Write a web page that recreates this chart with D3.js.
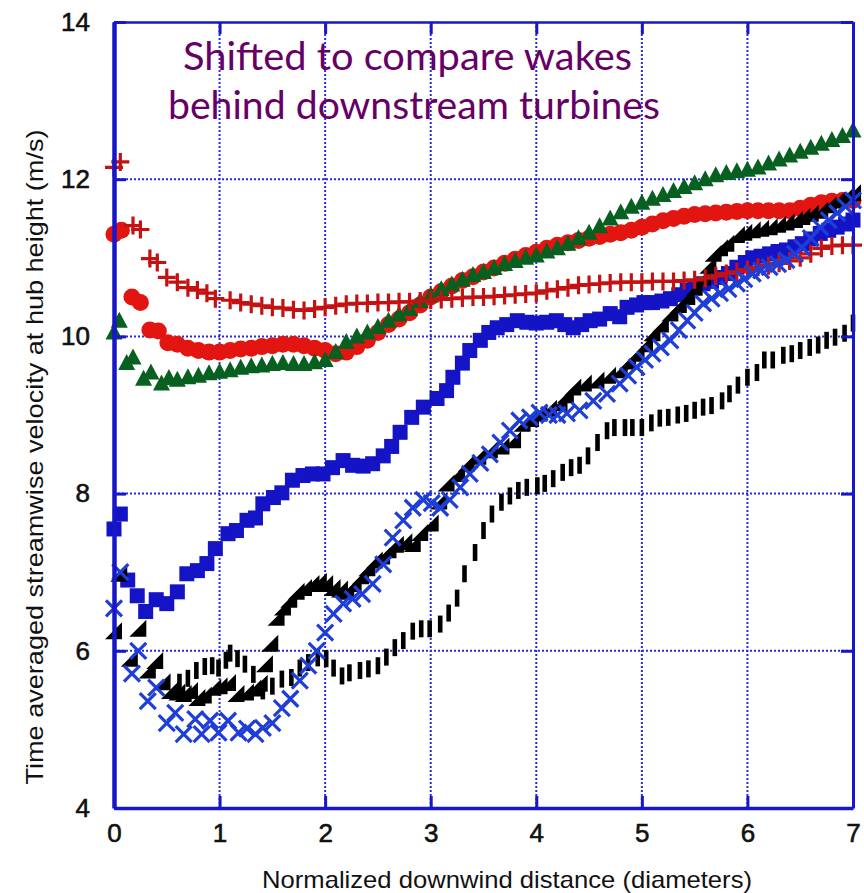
<!DOCTYPE html>
<html lang="en">
<head>
<meta charset="UTF-8">
<title>Time averaged streamwise velocity at hub height</title>
<script src="https://d3js.org/d3.v7.min.js"></script>
<style>
  body, html { margin: 0; padding: 0; background: #fff; }
  svg { display: block; }
  .tick text { font-family: "Liberation Sans", Arial, sans-serif; font-size: 26px; fill: #111; stroke: #111; stroke-width: 0.6px; }
</style>
</head>
<body>
<div id="chart"></div>
<script>
// x = normalized downwind distance (diameters), y = velocity (m/s)
const xTicks = [0, 1, 2, 3, 4, 5, 6, 7];
const yTicks = [4, 6, 8, 10, 12, 14];

const redPlus = [[0,12.15],[0.06,12.22],[0.18,11.41],[0.25,11.36],[0.34,10.99],[0.41,10.94],[0.5,10.75],[0.6,10.69],[0.7,10.62],[0.79,10.59],[0.88,10.55],[0.96,10.48],[1.1,10.46],[1.2,10.43],[1.3,10.41],[1.4,10.39],[1.5,10.37],[1.6,10.36],[1.7,10.34],[1.8,10.33],[1.9,10.35],[2.0,10.37],[2.1,10.39],[2.2,10.41],[2.3,10.42],[2.4,10.42],[2.5,10.43],[2.6,10.43],[2.7,10.44],[2.8,10.44],[2.9,10.45],[3.0,10.46],[3.1,10.47],[3.2,10.48],[3.3,10.49],[3.4,10.5],[3.5,10.5],[3.6,10.51],[3.7,10.52],[3.8,10.53],[3.9,10.54],[4.0,10.55],[4.1,10.58],[4.2,10.6],[4.3,10.62],[4.4,10.65],[4.5,10.66],[4.6,10.67],[4.7,10.68],[4.8,10.69],[4.9,10.69],[5.0,10.69],[5.1,10.7],[5.2,10.7],[5.3,10.7],[5.4,10.71],[5.5,10.72],[5.6,10.74],[5.7,10.77],[5.8,10.8],[5.9,10.82],[6.0,10.85],[6.1,10.88],[6.2,10.9],[6.3,10.93],[6.4,10.96],[6.5,11.0],[6.6,11.05],[6.7,11.12],[6.8,11.15],[6.9,11.16],[7.0,11.16]];

const redDots = [[0,11.3],[0.07,11.35],[0.17,10.5],[0.25,10.43],[0.34,10.08],[0.42,10.07],[0.51,9.92],[0.6,9.9],[0.7,9.85],[0.8,9.82],[0.9,9.8],[1.0,9.8],[1.1,9.82],[1.2,9.84],[1.3,9.85],[1.4,9.87],[1.5,9.88],[1.6,9.9],[1.7,9.9],[1.8,9.88],[1.9,9.85],[2.0,9.82],[2.1,9.78],[2.2,9.8],[2.3,9.87],[2.4,9.95],[2.5,10.05],[2.6,10.15],[2.7,10.22],[2.8,10.3],[2.9,10.4],[3.0,10.5],[3.1,10.57],[3.2,10.64],[3.3,10.71],[3.4,10.76],[3.5,10.82],[3.6,10.87],[3.7,10.93],[3.8,10.98],[3.9,11.03],[4.0,11.07],[4.1,11.12],[4.2,11.16],[4.3,11.19],[4.4,11.22],[4.5,11.25],[4.6,11.27],[4.7,11.3],[4.8,11.32],[4.9,11.35],[5.0,11.39],[5.1,11.43],[5.2,11.47],[5.3,11.5],[5.4,11.53],[5.5,11.55],[5.6,11.56],[5.7,11.57],[5.8,11.58],[5.9,11.59],[6.0,11.6],[6.1,11.6],[6.2,11.6],[6.3,11.6],[6.4,11.6],[6.5,11.63],[6.6,11.67],[6.7,11.7],[6.8,11.72],[6.9,11.73],[7.0,11.73]];

const greenTri = [[0,10.05],[0.05,10.2],[0.12,9.66],[0.18,9.73],[0.28,9.46],[0.35,9.54],[0.45,9.4],[0.52,9.47],[0.6,9.45],[0.7,9.48],[0.8,9.5],[0.9,9.53],[1.0,9.55],[1.1,9.57],[1.2,9.6],[1.3,9.62],[1.4,9.63],[1.5,9.65],[1.6,9.66],[1.7,9.65],[1.8,9.65],[1.9,9.67],[2.0,9.7],[2.1,9.8],[2.2,9.93],[2.3,10.0],[2.4,10.05],[2.5,10.12],[2.6,10.2],[2.7,10.28],[2.8,10.35],[2.9,10.45],[3.0,10.52],[3.1,10.6],[3.2,10.66],[3.3,10.72],[3.4,10.78],[3.5,10.82],[3.6,10.87],[3.7,10.92],[3.8,10.96],[3.9,11.0],[4.0,11.03],[4.1,11.08],[4.2,11.12],[4.3,11.18],[4.4,11.25],[4.5,11.32],[4.6,11.4],[4.7,11.5],[4.8,11.58],[4.9,11.65],[5.0,11.7],[5.1,11.75],[5.2,11.8],[5.3,11.85],[5.4,11.9],[5.5,11.95],[5.6,12.0],[5.7,12.05],[5.8,12.08],[5.9,12.1],[6.0,12.12],[6.1,12.15],[6.2,12.2],[6.3,12.25],[6.4,12.3],[6.5,12.35],[6.6,12.4],[6.7,12.45],[6.8,12.5],[6.9,12.55],[7.0,12.62]];

const blueSquares = [[0,7.55],[0.06,7.74],[0.13,6.9],[0.22,6.7],[0.3,6.5],[0.4,6.65],[0.5,6.6],[0.6,6.75],[0.69,6.98],[0.79,7.02],[0.88,7.11],[0.96,7.3],[1.08,7.49],[1.16,7.53],[1.26,7.66],[1.34,7.69],[1.41,7.87],[1.51,7.95],[1.59,8.01],[1.69,8.17],[1.79,8.23],[1.88,8.25],[1.98,8.25],[2.07,8.33],[2.17,8.42],[2.26,8.36],[2.36,8.35],[2.45,8.38],[2.55,8.48],[2.63,8.6],[2.71,8.78],[2.82,8.97],[2.93,9.1],[3.06,9.21],[3.15,9.31],[3.21,9.48],[3.3,9.66],[3.37,9.82],[3.47,9.95],[3.55,10.05],[3.63,10.11],[3.72,10.15],[3.82,10.2],[3.91,10.18],[4.0,10.17],[4.1,10.18],[4.19,10.2],[4.27,10.15],[4.35,10.11],[4.43,10.15],[4.51,10.2],[4.6,10.22],[4.7,10.29],[4.79,10.25],[4.86,10.37],[4.95,10.4],[5.02,10.43],[5.1,10.43],[5.19,10.45],[5.27,10.48],[5.35,10.53],[5.43,10.59],[5.5,10.63],[5.58,10.67],[5.66,10.7],[5.74,10.75],[5.82,10.8],[5.9,10.88],[5.98,10.94],[6.05,11.0],[6.13,11.02],[6.21,11.05],[6.29,11.08],[6.37,11.1],[6.45,11.14],[6.52,11.18],[6.6,11.24],[6.69,11.31],[6.77,11.35],[6.85,11.39],[6.93,11.43],[7.0,11.48]];

const blackTri = [[0,6.25],[0.05,6.98],[0.15,5.9],[0.23,6.28],[0.32,5.75],[0.39,5.87],[0.46,5.6],[0.53,5.49],[0.6,5.47],[0.66,5.45],[0.72,5.49],[0.79,5.4],[0.85,5.43],[0.94,5.53],[1.0,5.55],[1.08,5.59],[1.16,5.45],[1.25,5.47],[1.32,5.52],[1.38,5.58],[1.43,5.83],[1.48,6.09],[1.54,6.42],[1.6,6.55],[1.66,6.65],[1.73,6.75],[1.8,6.8],[1.87,6.85],[1.94,6.88],[2.0,6.85],[2.07,6.8],[2.14,6.78],[2.2,6.75],[2.27,6.85],[2.34,6.95],[2.4,7.05],[2.47,7.15],[2.54,7.2],[2.6,7.28],[2.67,7.35],[2.75,7.38],[2.83,7.36],[2.9,7.5],[3.0,7.62],[3.08,7.9],[3.15,8.13],[3.25,8.25],[3.34,8.38],[3.45,8.47],[3.56,8.55],[3.67,8.6],[3.78,8.68],[3.87,8.89],[3.95,8.95],[4.03,9.02],[4.12,9.08],[4.22,9.15],[4.28,9.25],[4.35,9.35],[4.45,9.4],[4.57,9.44],[4.68,9.5],[4.79,9.57],[4.87,9.68],[4.95,9.78],[5.03,9.9],[5.1,10.04],[5.18,10.15],[5.27,10.29],[5.35,10.4],[5.43,10.5],[5.5,10.62],[5.58,10.75],[5.63,10.9],[5.68,11.05],[5.74,11.12],[5.8,11.18],[5.9,11.29],[5.97,11.32],[6.05,11.35],[6.13,11.37],[6.21,11.39],[6.29,11.42],[6.37,11.45],[6.45,11.48],[6.52,11.52],[6.6,11.56],[6.69,11.6],[6.77,11.67],[6.85,11.73],[6.93,11.78],[7.0,11.82]];

const blackBars = [[0.62,5.6],[0.7,5.65],[0.78,5.75],[0.86,5.8],[0.93,5.81],[0.99,5.78],[1.06,5.88],[1.1,5.97],[1.17,5.9],[1.24,5.83],[1.32,5.7],[1.41,5.49],[1.5,5.55],[1.59,5.64],[1.68,5.66],[1.76,5.78],[1.84,5.85],[1.93,5.91],[2.01,5.9],[2.08,5.78],[2.16,5.68],[2.23,5.72],[2.33,5.75],[2.41,5.77],[2.5,5.81],[2.58,5.92],[2.66,6.04],[2.74,6.13],[2.83,6.25],[2.91,6.28],[2.99,6.28],[3.09,6.34],[3.17,6.48],[3.25,6.67],[3.32,6.98],[3.42,7.25],[3.5,7.53],[3.58,7.74],[3.67,7.89],[3.75,7.97],[3.83,8.04],[3.91,8.08],[4.01,8.1],[4.08,8.13],[4.16,8.19],[4.25,8.27],[4.33,8.33],[4.41,8.36],[4.49,8.48],[4.58,8.65],[4.67,8.8],[4.74,8.84],[4.84,8.84],[4.91,8.84],[5.0,8.84],[5.09,8.9],[5.17,8.96],[5.25,8.97],[5.34,9.0],[5.42,9.02],[5.5,9.06],[5.58,9.1],[5.66,9.12],[5.76,9.18],[5.83,9.27],[5.91,9.38],[6.0,9.48],[6.09,9.54],[6.16,9.7],[6.24,9.7],[6.34,9.76],[6.42,9.78],[6.5,9.82],[6.59,9.86],[6.67,9.89],[6.75,9.95],[6.83,9.99],[6.92,10.04],[7.0,10.17]];

const blueCross = [[0,6.54],[0.06,7.0],[0.17,5.71],[0.23,6.0],[0.32,5.36],[0.4,5.53],[0.5,5.08],[0.58,5.21],[0.66,4.94],[0.77,5.13],[0.83,4.94],[0.91,5.11],[0.99,4.96],[1.08,5.11],[1.18,4.96],[1.26,5.01],[1.34,4.94],[1.41,5.02],[1.5,5.08],[1.59,5.27],[1.67,5.39],[1.76,5.62],[1.84,5.81],[1.92,6.0],[2.0,6.23],[2.08,6.47],[2.17,6.6],[2.26,6.66],[2.35,6.72],[2.45,6.85],[2.55,7.1],[2.64,7.44],[2.74,7.66],[2.83,7.82],[2.93,7.92],[3.01,7.88],[3.09,7.82],[3.18,7.92],[3.28,8.08],[3.37,8.25],[3.47,8.39],[3.56,8.5],[3.66,8.65],[3.75,8.8],[3.84,8.93],[3.94,8.97],[4.03,9.03],[4.12,9.0],[4.2,9.0],[4.29,9.02],[4.41,9.06],[4.54,9.18],[4.67,9.27],[4.79,9.4],[4.87,9.5],[4.95,9.61],[5.03,9.7],[5.1,9.78],[5.18,9.86],[5.27,9.95],[5.35,10.08],[5.43,10.2],[5.5,10.3],[5.58,10.42],[5.66,10.48],[5.74,10.55],[5.82,10.6],[5.9,10.67],[5.97,10.73],[6.05,10.8],[6.13,10.84],[6.21,10.88],[6.29,10.92],[6.37,10.97],[6.45,11.05],[6.52,11.13],[6.6,11.25],[6.69,11.39],[6.77,11.48],[6.85,11.57],[6.93,11.65],[7.0,11.73]];

const W = 864, H = 893;
const frame = "#1717c9";

const svg = d3.select("#chart").append("svg")
    .attr("width", W)
    .attr("height", H);

const x = d3.scaleLinear().domain([0, 7]).range([114, 853]);
const y = d3.scaleLinear().domain([4, 14]).range([808, 22]);

// dotted grid
const grid = svg.append("g").attr("stroke", "#2a2ad6").attr("stroke-width", 2)
    .attr("stroke-dasharray", "2,2");
grid.selectAll(".vg").data(xTicks.slice(1, -1)).enter().append("line")
    .attr("x1", d => x(d)).attr("x2", d => x(d))
    .attr("y1", y(14)).attr("y2", y(4));
grid.selectAll(".hg").data(yTicks.slice(1, -1)).enter().append("line")
    .attr("x1", x(0)).attr("x2", x(7))
    .attr("y1", d => y(d)).attr("y2", d => y(d));

// title
const title = svg.append("g")
    .attr("font-family", "Lato, 'Open Sans', sans-serif")
    .attr("font-size", 39)
    .attr("fill", "#660066");
title.append("text").attr("x", 183).attr("y", 70)
    .attr("textLength", 449).attr("lengthAdjust", "spacingAndGlyphs")
    .text("Shifted to compare wakes");
title.append("text").attr("x", 168).attr("y", 119)
    .attr("textLength", 492).attr("lengthAdjust", "spacingAndGlyphs")
    .text("behind downstream turbines");

// markers
function plot(data, draw) {
    const g = svg.append("g");
    data.forEach(d => draw(g, x(d[0]), y(d[1])));
}

plot(redDots, (g, px, py) => g.append("circle")
    .attr("cx", px).attr("cy", py).attr("r", 8.5).attr("fill", "#e31510"));

plot(greenTri, (g, px, py) => g.append("path")
    .attr("transform", `translate(${px},${py})`)
    .attr("d", "M0,-9L8.5,7L-8.5,7Z").attr("fill", "#07601f"));

plot(blueSquares, (g, px, py) => g.append("rect")
    .attr("x", px - 7.5).attr("y", py - 7.5).attr("width", 15).attr("height", 15)
    .attr("fill", "#1414c6"));

plot(blackTri, (g, px, py) => g.append("path")
    .attr("transform", `translate(${px},${py})`)
    .attr("d", "M-9,8L8,8L8,-9Z").attr("fill", "#000"));

plot(redPlus, (g, px, py) => g.append("path")
    .attr("transform", `translate(${px},${py})`)
    .attr("d", "M-9,0H9M0,-9V9").attr("stroke", "#c41212").attr("stroke-width", 3.2)
    .attr("fill", "none"));

plot(blackBars, (g, px, py) => g.append("rect")
    .attr("x", px - 2.3).attr("y", py - 8.5).attr("width", 4.6).attr("height", 17)
    .attr("fill", "#000"));

plot(blueCross, (g, px, py) => g.append("path")
    .attr("transform", `translate(${px},${py})`)
    .attr("d", "M-8,-8L8,8M-8,8L8,-8").attr("stroke", "#1f3ed8").attr("stroke-width", 3.2)
    .attr("fill", "none"));

// axes: ticks point inward
function styleAxis(g, width) {
    g.select(".domain").attr("stroke", frame).attr("stroke-width", width);
    g.selectAll(".tick line").attr("stroke", frame).attr("stroke-width", 3);
}

svg.append("g").attr("transform", `translate(0,${y(14)})`)
    .call(d3.axisTop(x).tickValues(xTicks).tickSize(-12).tickSizeOuter(0).tickFormat(""))
    .call(g => styleAxis(g, 2.5));

svg.append("g").attr("transform", `translate(${x(7)},0)`)
    .call(d3.axisRight(y).tickValues(yTicks).tickSize(-12).tickSizeOuter(0).tickFormat(""))
    .call(g => styleAxis(g, 3));

svg.append("g").attr("transform", `translate(0,${y(4)})`)
    .call(d3.axisBottom(x).tickValues(xTicks).tickSize(-12).tickSizeOuter(0)
        .tickPadding(16).tickFormat(d3.format("d")))
    .call(g => styleAxis(g, 3.5));

svg.append("g").attr("transform", `translate(${x(0)},0)`)
    .call(d3.axisLeft(y).tickValues(yTicks).tickSize(-12).tickSizeOuter(0)
        .tickPadding(24).tickFormat(d3.format("d")))
    .call(g => styleAxis(g, 4.5));

// axis titles
svg.append("text")
    .attr("x", 507).attr("y", 888)
    .attr("text-anchor", "middle")
    .attr("font-family", "'Liberation Sans', Arial, sans-serif")
    .attr("font-size", 24).attr("fill", "#111")
    .attr("textLength", 490).attr("lengthAdjust", "spacingAndGlyphs")
    .text("Normalized downwind distance (diameters)");

svg.append("text")
    .attr("transform", "translate(43,457) rotate(-90)")
    .attr("text-anchor", "middle")
    .attr("font-family", "'Liberation Sans', Arial, sans-serif")
    .attr("font-size", 24).attr("fill", "#111")
    .attr("textLength", 655).attr("lengthAdjust", "spacingAndGlyphs")
    .text("Time averaged streamwise velocity at hub height (m/s)");
</script>
</body>
</html>
